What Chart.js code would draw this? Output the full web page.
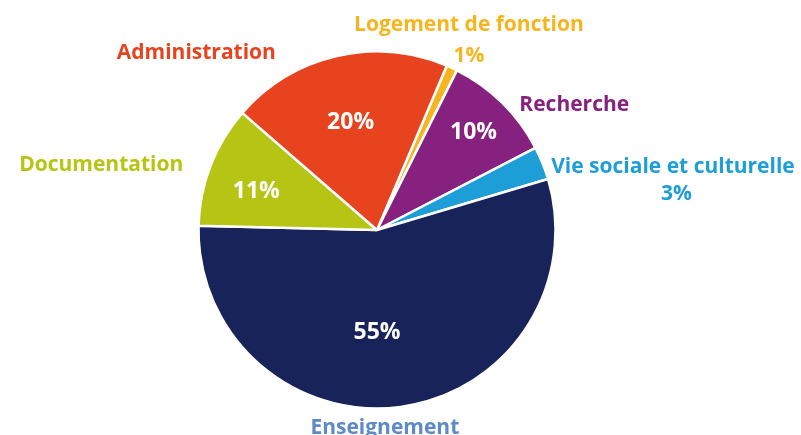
<!DOCTYPE html>
<html>
<head>
<meta charset="utf-8">
<script src="https://cdn.jsdelivr.net/npm/chart.js@4.4.0/dist/chart.umd.min.js"></script>
<style>
  html, body { margin: 0; padding: 0; background: #ffffff; }
  #wrap { width: 801px; height: 435px; position: relative; }
</style>
</head>
<body>
<div id="wrap"><canvas id="c" width="801" height="435"></canvas></div>
<script>
// ---- data ----
const categories = ["Logement de fonction", "Recherche", "Vie sociale et culturelle", "Enseignement", "Documentation", "Administration"];
const values = [1, 10, 3, 55, 11, 20];
const percentLabels = ["1%", "10%", "3%", "55%", "11%", "20%"];

// ---- style ----
const sliceColors = ["#f7b51d", "#86217f", "#1d9ed6", "#182359", "#b6c414", "#e6431e"];
const labelColors = ["#f7b51d", "#86217f", "#1d9ed6", "#5b8ac6", "#b6c414", "#e6431e"];
const FONT = "'Open Sans', 'Liberation Sans', sans-serif";

// outer name label anchors relative to pie centre, in radius units
const outerAnchors = [
  {dx: 0.515, dy: -1.148, pctDy: 0.175},   // Logement: name + % below
  {dx: 1.105, dy: -0.702},                 // Recherche
  {dx: 1.658, dy: -0.351, pctDy: 0.152, pctDx: 0.02}, // Vie sociale: name + % below
  {dx: 0.044, dy: 1.108},                  // Enseignement
  {dx: -1.545, dy: -0.363},                // Documentation
  {dx: -1.012, dy: -0.990}                 // Administration
];
// inner % label placement (fraction of radius) for slices with inside labels
const innerFrac = [null, 0.77, null, 0.575, 0.71, 0.62];
const innerAngleShift = [0, 0, 0, 7.6, -3.4, -0.8]; // degrees

const labelPlugin = {
  id: 'labels',
  afterDatasetsDraw(chart) {
    const ctx = chart.ctx;
    const meta = chart.getDatasetMeta(0);
    ctx.save();
    ctx.textAlign = 'center';
    ctx.textBaseline = 'middle';
    meta.data.forEach((arc, i) => {
      const p = arc.getProps(['x', 'y', 'startAngle', 'endAngle', 'outerRadius'], true);
      const R = p.outerRadius;
      const a = outerAnchors[i];
      const nx = p.x + a.dx * R, ny = p.y + a.dy * R;
      ctx.fillStyle = labelColors[i];
      ctx.font = "bold 21px " + FONT;
      ctx.fillText(categories[i], nx, ny);
      if (a.pctDy !== undefined) {
        ctx.fillText(percentLabels[i], nx + (a.pctDx || 0) * R, ny + a.pctDy * R);
      }
      if (innerFrac[i] !== null) {
        const mid = (p.startAngle + p.endAngle) / 2 + innerAngleShift[i] * Math.PI / 180;
        const r = innerFrac[i] * R;
        ctx.fillStyle = "#ffffff";
        ctx.font = "bold 23px " + FONT;
        ctx.fillText(percentLabels[i], p.x + Math.cos(mid) * r, p.y + Math.sin(mid) * r);
      }
    });
    ctx.restore();
  }
};

new Chart(document.getElementById('c'), {
  type: 'pie',
  data: {
    labels: categories,
    datasets: [{
      data: values,
      backgroundColor: sliceColors,
      borderColor: "#ffffff",
      borderWidth: 2.5,
      radius: 178.5
    }]
  },
  options: {
    responsive: false,
    animation: false,
    rotation: 23,
    layout: { padding: { left: 199, right: 246, top: 52, bottom: 27 } },
    plugins: { legend: { display: false }, tooltip: { enabled: false } }
  },
  plugins: [labelPlugin]
});
</script>
</body>
</html>
